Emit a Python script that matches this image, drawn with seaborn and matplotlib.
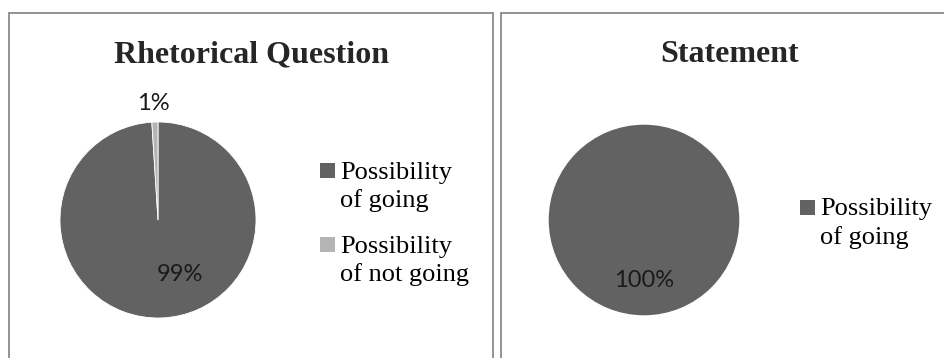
import matplotlib
matplotlib.use("Agg")
import matplotlib.pyplot as plt
from matplotlib.patches import Rectangle
import seaborn as sns

sns.set_theme(style="white")
plt.rcParams['font.family'] = ['Liberation Serif', 'DejaVu Serif']

# ---- data ----
titles = ["Rhetorical Question", "Statement"]
left_labels = ["Possibility of going", "Possibility of not going"]
left_values = [99, 1]
right_labels = ["Possibility of going"]
right_values = [100]
legend_lines_left = [["Possibility", "of going"], ["Possibility", "of not going"]]
legend_lines_right = [["Possibility", "of going"]]

colors = ["#626262", "#b4b4b4"]
W, H = 944, 358
fig = plt.figure(figsize=(W / 100, H / 100), dpi=100)
fig.patch.set_facecolor("white")

# panel borders
for (x0, x1) in [(9, 493), (501, 960)]:
    fig.patches.append(Rectangle((x0 / W, -0.1), (x1 - x0) / W, (H - 13) / H + 0.1,
                                 transform=fig.transFigure, fill=False,
                                 edgecolor="#8a8a8a", lw=1.3))

def pie_axes(cx, cy, r):
    return fig.add_axes([(cx - r) / W, (H - cy - r) / H, 2 * r / W, 2 * r / H])

pct_font = dict(family=['Lato', 'DejaVu Sans'], size=17, color="#1a1a1a")

# left pie
axL = pie_axes(158, 220, 98)
wedges, _, autotexts = axL.pie(left_values, colors=colors, startangle=90,
                               counterclock=False, autopct="%d%%",
                               wedgeprops=dict(linewidth=0.6, edgecolor="white"),
                               textprops=pct_font)
autotexts[0].set_position((0.22, -0.56))
autotexts[1].set_position((-0.05, 1.19))
axL.set_xlim(-1, 1); axL.set_ylim(-1, 1); axL.set_aspect("equal"); axL.axis("off")

# right pie
axR = pie_axes(644, 220, 96)
wedgesR, _, autotextsR = axR.pie(right_values, colors=colors[:1], startangle=90,
                                 counterclock=False, autopct="%d%%",
                                 pctdistance=0.63, textprops=pct_font)
axR.set_xlim(-1, 1); axR.set_ylim(-1, 1); axR.set_aspect("equal"); axR.axis("off")

# titles
fig.text(252 / W, 1 - 55 / H, titles[0], ha="center", va="center",
         fontsize=23, fontweight="bold")
fig.text(730 / W, 1 - 55 / H, titles[1], ha="center", va="center",
         fontsize=23, fontweight="bold")

def add_legend(items, cols, x_sq, y_first, step_item, step_line=28):
    y = y_first
    for lines, c in zip(items, cols):
        fig.patches.append(Rectangle((x_sq / W, 1 - (y + 7.5) / H), 15 / W, 15 / H,
                                     transform=fig.transFigure, facecolor=c,
                                     edgecolor="none"))
        for k, ln in enumerate(lines):
            fig.text((x_sq + 20) / W, 1 - (y + k * step_line) / H, ln,
                     ha="left", va="center_baseline", fontsize=19, color="black")
        y += step_item

add_legend(legend_lines_left, colors, 320, 170, 74)
add_legend(legend_lines_right, colors[:1], 800, 207, 74)

fig.savefig("out.png", dpi=100, facecolor="white")
